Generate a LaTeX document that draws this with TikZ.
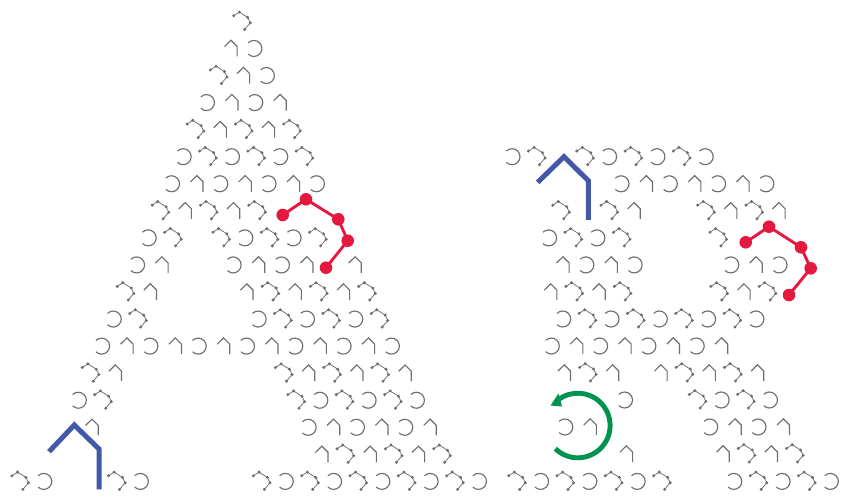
\documentclass[tikz,border=0pt]{standalone}
\definecolor{glyphgray}{HTML}{6E6E6E}
\definecolor{redchain}{HTML}{E5193F}
\definecolor{bluehouse}{HTML}{4359A8}
\definecolor{greenloop}{HTML}{00934F}
\tikzset{
  glyphline/.style={draw=glyphgray,line width=1.15pt,line join=miter},
  chainline/.style={draw=glyphgray,line width=0.75pt},
  bighouse/.style={draw=bluehouse,line width=5pt,line join=miter},
  bigchain/.style={draw=redchain,line width=2.9pt},
  bigloop/.style={draw=greenloop,line width=4.9pt}
}
\newcommand{\gN}[2]{}
\newcommand{\gD}[2]{%
  \draw[chainline] (#1-8.3,#2-13.6) -- (#1-2.7,#2-17.3) -- (#1+5.7,#2-12) -- (#1+8.3,#2-6.6) -- (#1+2.7,#2);
  \foreach \dx/\dy in {-8.3/-13.6,-2.7/-17.3,5.7/-12,8.3/-6.6,2.7/0}
    \fill[glyphgray] (#1+\dx,#2+\dy) circle (1.65pt);}
\newcommand{\gA}[2]{%
  \draw[glyphline] (#1+0.6-6.4,#2-9.9) -- (#1+0.6,#2-16.2) -- (#1+0.6+6.2,#2-10) -- (#1+0.6+6.2,#2);}
\newcommand{\gC}[2]{%
  \draw[glyphline] (#1-0.6,#2-8) ++(-135:8pt) arc[start angle=-135,end angle=135,radius=8pt];}
\newcommand{\grow}[3]{% baseline, x0, list
  \foreach \g [count=\i from 0] in {#3} {
    \pgfmathsetmacro{\xx}{#2+24.15*\i}
    \csname g\g\endcsname{\xx}{#1}
  }}
\newcommand{\trow}[2]{%
  \pgfmathsetmacro{\yy}{29.4+27.06*(#1-1)}
  \pgfmathsetmacro{\xs}{242-11.65*(#1-1)}
  \grow{\yy}{\xs}{#2}}
\begin{document}
\begin{tikzpicture}[x=1pt,y=1pt,yscale=-1]
\useasboundingbox (0,0) rectangle (843,497);
% the letter A
\trow{1}{D}
\trow{2}{A,C}
\trow{3}{D,A,C}
\trow{4}{C,A,C,A}
\trow{5}{D,A,D,A,D}
\trow{6}{C,D,C,D,C,D}
\trow{7}{C,A,C,A,C,A,C}
\trow{8}{D,A,D,A,D}
\trow{9}{C,D,N,D,C,D,C,D}
\trow{10}{C,A,N,N,C,A,C,A,N,A}
\trow{11}{D,A,N,N,N,A,D,A,D,A,D}
\trow{12}{C,D,N,N,N,N,C,D,C,D,C,D}
\trow{13}{C,A,C,A,C,A,C,A,C,A,C,A,C}
\trow{14}{D,A,N,N,N,N,N,N,D,A,D,A,D,A}
\trow{15}{C,D,N,N,N,N,N,N,N,D,C,D,C,D,C}
\trow{16}{N,A,N,N,N,N,N,N,N,N,C,A,C,A,C,A}
\trow{17}{N,N,N,N,N,N,N,N,N,N,N,A,D,A,D,A,D}
\grow{489.4}{20.2}{D,C,N,N,D,C,N,N,N,N,D,C,D,C,D,C,D,C,D,C}
% the letter R
\grow{164.7}{512.6}{C,D,N,D,C,D,C,D,C}
\grow{191.8}{621.6}{C,A,C,A,C,A,C}
\grow{218.8}{561}{D,N,D,A,N,N,D,A,D,A}
\grow{245.9}{549.2}{C,D,C,D,N,N,N,D}
\grow{272.9}{562.3}{A,C,A,C,N,N,N,C,A,C}
\grow{300}{550.1}{A,D,A,D,N,N,N,D,A,D}
\grow{327}{563.3}{C,D,C,D,C,D,C,D,C}
\grow{354}{551.9}{C,A,C,A,C,A,C,A}
\grow{381}{563.7}{A,D,A,N,A,D,A,D,A}
\grow{408}{625.1}{C,N,N,D,C,D,C}
\grow{435}{565.4}{C,A,N,N,N,N,C,A,C,A}
\grow{462}{625.8}{A,N,N,N,A,D,A,D}
\grow{489.4}{517}{D,C,D,C,D,C,D,N,N,C,D,C,D,C}
% blue houses
\draw[bighouse] (49,451.7) -- (74.3,425) -- (99,449) -- (99,489.3);
\draw[bighouse] (537.7,182.3) -- (564,156.7) -- (588.3,180.7) -- (588.3,220);
% red chains
\draw[bigchain] (282.7,215) -- (306,199.3) -- (338.3,219.3) -- (347.7,240.7) -- (326,267.7);
\foreach \px/\py in {282.7/215,306/199.3,338.3/219.3,347.7/240.7,326/267.7}
  \fill[redchain] (\px,\py) circle (6.3pt);
\draw[bigchain] (745.7,242.3) -- (769,226.7) -- (801,247.3) -- (810.7,268.3) -- (789,295);
\foreach \px/\py in {745.7/242.3,769/226.7,801/247.3,810.7/268.3,789/295}
  \fill[redchain] (\px,\py) circle (6.3pt);
% green loop
\draw[bigloop] (577.8,425.5) ++(134:32.3pt) arc[start angle=134,end angle=-128,radius=32.3pt];
\fill[greenloop] (550.5,405.5) -- (558.5,393.5) -- (562,406.5) -- cycle;
\end{tikzpicture}
\end{document}
